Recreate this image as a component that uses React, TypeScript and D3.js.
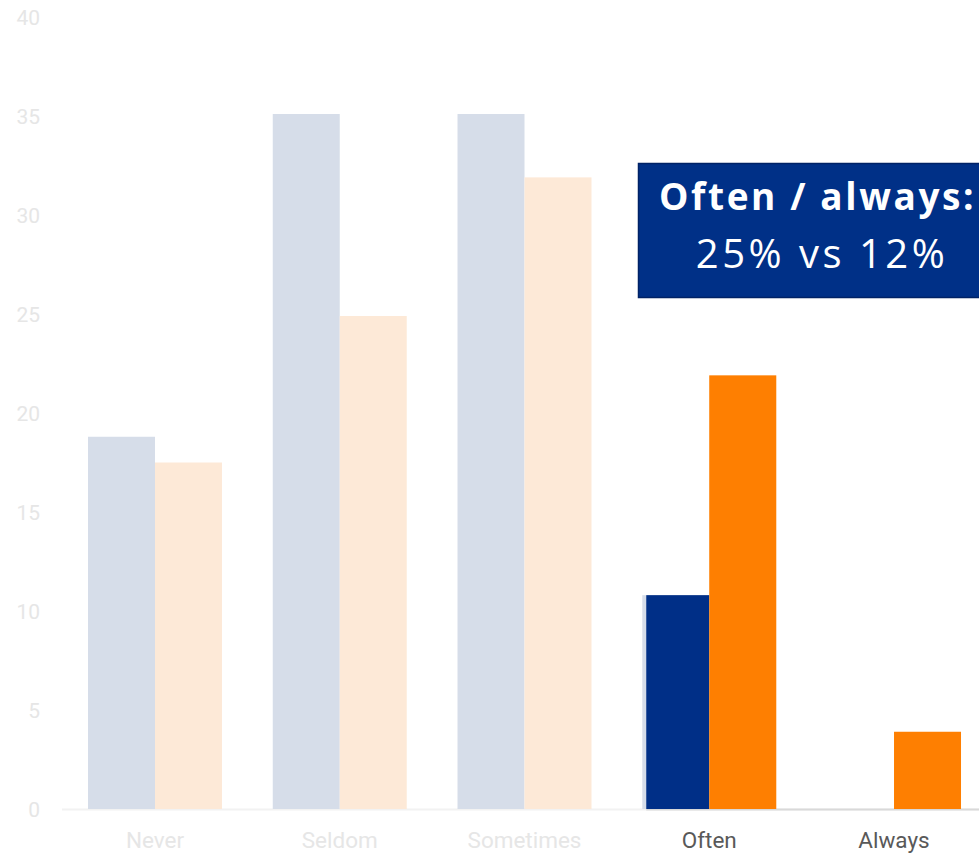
import React from "react";
import * as d3 from "d3";

const categories = ["Never", "Seldom", "Sometimes", "Often", "Always"];
const seriesA = [18.8, 35.1, 35.1, 10.8, 0];
const seriesB = [17.5, 24.9, 31.9, 21.9, 3.9];
const highlighted = ["Often", "Always"];
const yTicks = [0, 5, 10, 15, 20, 25, 30, 35, 40];
const boxLine1 = "Often / always:";
const boxLine2 = "25% vs 12%";

const W = 979;
const H = 853;

export default function App() {
  const x = d3.scaleBand<string>().domain(categories).range([62.6, 986.4]).paddingInner(0).paddingOuter(0);
  const y = d3.scaleLinear().domain([0, 40]).range([809, 17]);
  const inner = d3.scaleBand<string>().domain(["A", "B"]).range([0, x.bandwidth()]).paddingOuter(0.379).paddingInner(0);
  const font = "Roboto, 'Liberation Sans', sans-serif";

  return (
    <svg width={W} height={H} style={{ position: "absolute", left: 0, top: 0, background: "#fff" }}>
      <rect x={0} y={0} width={W} height={H} fill="#fff" />
      {yTicks.map((t) => (
        <text key={t} x={40} y={y(t) + 8} textAnchor="end" fontFamily={font} fontSize={21} fill="#e6e6e6">
          {t}
        </text>
      ))}
      {/* faded axis */}
      <line x1={62} x2={W} y1={809.5} y2={809.5} stroke="#f2f2f2" strokeWidth={2} />
      {categories.map((c, i) => {
        const x0 = x(c)!;
        return (
          <g key={c}>
            <rect x={x0 + inner("A")!} y={y(seriesA[i])} width={inner.bandwidth()} height={y(0) - y(seriesA[i])} fill="#d6dde9" />
            <rect x={x0 + inner("B")!} y={y(seriesB[i])} width={inner.bandwidth()} height={y(0) - y(seriesB[i])} fill="#fde9d7" />
          </g>
        );
      })}
      {/* highlighted layer */}
      <line x1={x("Often")! + inner("A")! + 4} x2={W} y1={809.5} y2={809.5} stroke="#d9d9d9" strokeWidth={2} />
      {categories.map((c, i) => {
        if (!highlighted.includes(c)) return null;
        const x0 = x(c)!;
        return (
          <g key={"h" + c}>
            {seriesA[i] > 0 && (
              <rect x={x0 + inner("A")! + 4} y={y(seriesA[i])} width={inner.bandwidth() - 4} height={y(0) - y(seriesA[i])} fill="#002f87" />
            )}
            <rect x={x0 + inner("B")!} y={y(seriesB[i])} width={inner.bandwidth()} height={y(0) - y(seriesB[i])} fill="#fe7f01" />
          </g>
        );
      })}
      {categories.map((c) => (
        <text
          key={"l" + c}
          x={x(c)! + x.bandwidth() / 2}
          y={848}
          textAnchor="middle"
          fontFamily={font}
          fontSize={22.5}
          fill={highlighted.includes(c) ? "#595959" : "#e6e6e6"}
        >
          {c}
        </text>
      ))}
      {/* annotation box */}
      <rect x={638.5} y={163.5} width={360} height={134} fill="#003087" stroke="#002266" strokeWidth={1.5} />
      <text x={659} y={210} fontFamily="'Open Sans', 'Noto Sans', sans-serif" fontWeight={700} fontSize={37} letterSpacing={2.6} fill="#fff">
        {boxLine1}
      </text>
      <text x={822} y={268} textAnchor="middle" fontFamily="'Open Sans', 'Noto Sans', sans-serif" fontSize={40} letterSpacing={3.5} fill="#fff">
        {boxLine2}
      </text>
    </svg>
  );
}
